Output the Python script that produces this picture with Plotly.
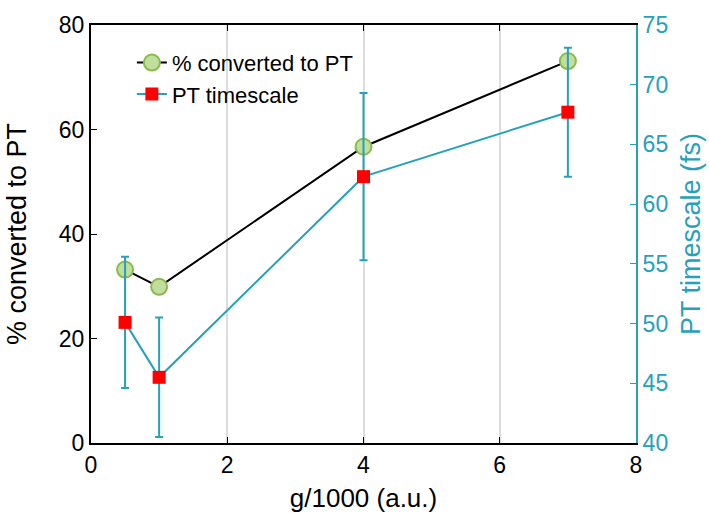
import plotly.graph_objects as go

g_vals = [0.5, 1, 4, 7]
pct_converted = [33.2, 29.9, 56.7, 73.1]
pt_timescale = [50.1, 45.5, 62.3, 67.7]
pt_err = [5.5, 5.0, 7.0, 5.4]

TEAL = "#27A0BA"
FONT = "Liberation Sans, Arial, Helvetica, sans-serif"

fig = go.Figure()
fig.add_trace(go.Scatter(
    x=g_vals, y=pct_converted, mode="lines+markers", name="% converted to PT",
    line=dict(color="black", width=2),
    marker=dict(symbol="circle", size=16, color="#C2DE9E",
                line=dict(color="#86BC4C", width=2)),
    yaxis="y"))
fig.add_trace(go.Scatter(
    x=g_vals, y=pt_timescale, mode="lines+markers", name="PT timescale",
    line=dict(color=TEAL, width=2),
    marker=dict(symbol="square", size=13, color="#FF0000"),
    error_y=dict(type="data", array=pt_err, visible=True, color=TEAL,
                 thickness=2, width=4),
    yaxis="y2"))

fig.update_layout(
    width=709, height=517,
    margin=dict(l=91, r=73, t=25, b=74),
    paper_bgcolor="white", plot_bgcolor="white",
    font=dict(family=FONT, size=22, color="black"),
    showlegend=True,
    legend=dict(x=0.075, y=0.96, xanchor="left", yanchor="top",
                bgcolor="rgba(255,255,255,0)", borderwidth=0,
                font=dict(size=22), tracegroupgap=0, itemwidth=30),
    xaxis=dict(range=[0, 8], tickvals=[0, 2, 4, 6, 8], ticks="inside", ticklen=6,
               tickcolor="black", showline=True, linecolor="black", linewidth=2,
               mirror="ticks", showgrid=True, gridcolor="#DDDDDD", gridwidth=1.5,
               zeroline=False, automargin=False,
               title=dict(text="g/1000 (a.u.)", font=dict(size=26), standoff=12),
               tickfont=dict(size=23)),
    yaxis=dict(range=[0, 80], tickvals=[0, 20, 40, 60, 80], ticks="inside", ticklen=6,
               tickcolor="black", showline=True, linecolor="black", linewidth=2,
               showgrid=False, zeroline=False, automargin=False,
               title=dict(text="% converted to PT", font=dict(size=27), standoff=24),
               tickfont=dict(size=23)),
    yaxis2=dict(range=[40, 75], tickvals=[40, 45, 50, 55, 60, 65, 70, 75],
                overlaying="y", side="right", ticks="inside", ticklen=6,
                tickcolor=TEAL, showline=True, linecolor=TEAL, linewidth=2,
                showgrid=False, zeroline=False, automargin=False,
                title=dict(text="PT timescale (fs)", font=dict(size=27, color=TEAL), standoff=14),
                tickfont=dict(size=23, color=TEAL)),
)

fig.write_html("out.html")
